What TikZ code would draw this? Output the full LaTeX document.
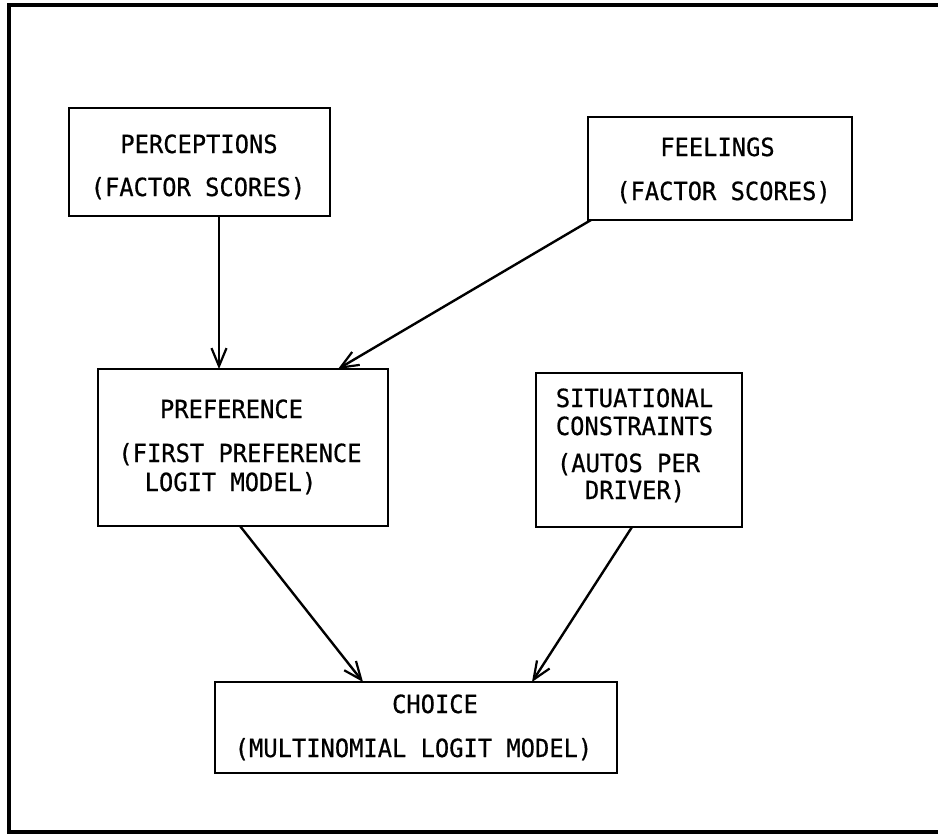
\documentclass[tikz,border=0pt]{standalone}
\usepackage{fontspec}
\newfontfamily\twfont[FakeStretch=0.95,FakeBold=0.6]{DejaVu Sans Mono}
\usetikzlibrary{arrows.meta}
\begin{document}
\begin{tikzpicture}[x=1pt,y=-1pt,
  box/.style={draw, line width=2.6pt, inner sep=0pt, outer sep=0pt, rectangle},
  txt/.style={font=\twfont\fontsize{25}{28}\selectfont, anchor=base, inner sep=0pt},
  flow/.style={line width=2.4pt, -{Straight Barb[length=18pt,width=15pt,line width=2.2pt]}}
]
\useasboundingbox (0,0) rectangle (938,835);
% outer frame
\draw[line width=3.5pt] (938,5) -- (9,5) -- (9,832) -- (938,832);
% boxes
\node[box, minimum width=261pt, minimum height=108pt] (perc) at (199.5,162) {};
\node[box, minimum width=264pt, minimum height=103pt] (feel) at (720,168.5) {};
\node[box, minimum width=290pt, minimum height=157pt] (pref) at (243,447.5) {};
\node[box, minimum width=206pt, minimum height=154pt] (sit) at (639,450) {};
\node[box, minimum width=402pt, minimum height=91pt] (choice) at (416,727.5) {};
% texts
\node[txt] (t1) at (199,153) {PERCEPTIONS};
\node[txt] (t2) at (198,196) {(FACTOR SCORES)};
\node[txt] (t3) at (717.5,156) {FEELINGS};
\node[txt] (t4) at (723.5,200) {(FACTOR SCORES)};
\node[txt] (t5) at (231.5,418) {PREFERENCE};
\node[txt] (t6) at (240,462) {(FIRST PREFERENCE};
\node[txt] (t7) at (230.5,491) {LOGIT MODEL)};
\node[txt] (t8) at (634.5,407) {SITUATIONAL};
\node[txt] (t9) at (634.5,435) {CONSTRAINTS};
\node[txt] (t10) at (628.5,472) {(AUTOS PER};
\node[txt] (t11) at (635,499) {DRIVER)};
\node[txt] (t12) at (435,713) {CHOICE};
\node[txt] (t13) at (413.5,757) {(MULTINOMIAL LOGIT MODEL)};
% connectors
\draw[flow] ([xshift=19.5pt]perc.south) -- ([xshift=-24pt]pref.north);
\draw[flow] ([xshift=3pt]feel.south west) -- ([xshift=-50pt]pref.north east);
\draw[flow] ([xshift=-3pt]pref.south) -- ([xshift=-53pt]choice.north);
\draw[flow] ([xshift=-7pt]sit.south) -- ([xshift=116pt]choice.north);
\end{tikzpicture}
\end{document}
